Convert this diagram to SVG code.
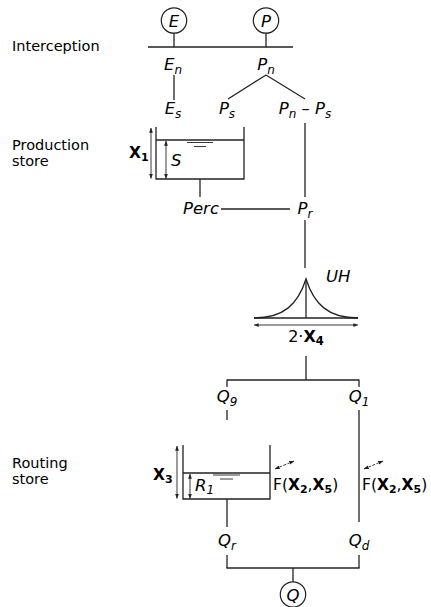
<svg xmlns="http://www.w3.org/2000/svg" width="431" height="607" viewBox="0 0 431 607">
<style>
text{font-family:"DejaVu Sans",sans-serif;fill:#000}
.lab{font-size:14.5px}
.v{font-size:16.5px;font-style:italic}
.sub{font-size:12px}
.b{font-weight:bold}
.ln{stroke:#222;stroke-width:1.3;fill:none}
.th{stroke:#222;stroke-width:0.9;fill:none}
.c{fill:#fff;stroke:#222;stroke-width:1.2}
</style>
<defs>
<marker id="ah" viewBox="0 0 8 6" refX="7.5" refY="3" markerWidth="5" markerHeight="4" orient="auto-start-reverse" markerUnits="userSpaceOnUse">
<path d="M0,0 L8,3 L0,6 Z" fill="#222"/>
</marker>
</defs>
<g id="labels">
<text class="lab" x="12" y="51">Interception</text>
<text class="lab" x="12" y="150">Production</text>
<text class="lab" x="12" y="166">store</text>
<text class="lab" x="12" y="468">Routing</text>
<text class="lab" x="12" y="484">store</text>
</g>
<g id="connectors">
<line class="ln" x1="148" y1="47" x2="293" y2="47"/>
<line class="ln" x1="174" y1="33" x2="174" y2="47"/>
<line class="ln" x1="266" y1="33" x2="266" y2="47"/>
<line class="ln" x1="174" y1="75" x2="174" y2="100"/>
<line class="ln" x1="266" y1="75" x2="228" y2="99"/>
<line class="ln" x1="266" y1="75" x2="305" y2="99"/>
<line class="ln" x1="305" y1="123" x2="305" y2="197"/>
<line class="ln" x1="200" y1="179" x2="200" y2="197"/>
<line class="ln" x1="221" y1="209" x2="290" y2="209"/>
<line class="ln" x1="305" y1="220" x2="305" y2="268"/>
<line class="ln" x1="306" y1="356" x2="306" y2="380"/>
<line class="ln" x1="227" y1="380" x2="359" y2="380"/>
<line class="ln" x1="227" y1="379.4" x2="227" y2="387"/>
<line class="ln" x1="359" y1="379.4" x2="359" y2="387"/>
<line class="ln" x1="227" y1="410" x2="227" y2="420"/>
<line class="ln" x1="359" y1="410" x2="359" y2="522"/>
<line class="ln" x1="227" y1="499" x2="227" y2="527"/>
<line class="ln" x1="227" y1="555" x2="227" y2="568"/>
<line class="ln" x1="359" y1="555" x2="359" y2="568"/>
<line class="ln" x1="226.4" y1="568" x2="359.6" y2="568"/>
<line class="ln" x1="293" y1="568" x2="293" y2="582"/>
<line class="th" x1="275" y1="469" x2="294" y2="461" marker-start="url(#ah)" marker-end="url(#ah)" stroke-dasharray="3,1.5"/>
<line class="th" x1="364" y1="469" x2="383" y2="461" marker-start="url(#ah)" marker-end="url(#ah)" stroke-dasharray="3,1.5"/>
</g>
<g id="E">
<circle class="c" cx="174" cy="20.5" r="12.7"/>
<text class="v" x="174" y="26.5" text-anchor="middle">E</text>
</g>
<g id="P">
<circle class="c" cx="266" cy="20.5" r="12.7"/>
<text class="v" x="266" y="26.5" text-anchor="middle">P</text>
</g>
<g id="En"><text class="v" x="173" y="70" text-anchor="middle">E<tspan class="sub" dy="4">n</tspan></text></g>
<g id="Pn"><text class="v" x="266" y="70" text-anchor="middle">P<tspan class="sub" dy="4">n</tspan></text></g>
<g id="Es"><text class="v" x="173" y="114" text-anchor="middle">E<tspan class="sub" dy="4">s</tspan></text></g>
<g id="Ps"><text class="v" x="227" y="114" text-anchor="middle">P<tspan class="sub" dy="4">s</tspan></text></g>
<g id="PnPs"><text class="v" x="305" y="114" text-anchor="middle">P<tspan class="sub" dy="4">n</tspan><tspan dy="-4" font-style="normal"> – </tspan>P<tspan class="sub" dy="4">s</tspan></text></g>
<g id="production-store">
<path class="ln" d="M156,127 V179 H244 V127"/>
<line class="ln" x1="156" y1="140" x2="244" y2="140"/>
<line class="th" x1="187" y1="142.5" x2="213" y2="142.5"/>
<line class="th" x1="194" y1="146.5" x2="206" y2="146.5"/>
<line class="th" x1="151" y1="128" x2="151" y2="178.5" marker-start="url(#ah)" marker-end="url(#ah)"/>
<line class="th" x1="166" y1="141" x2="166" y2="178.5" marker-start="url(#ah)" marker-end="url(#ah)"/>
<text class="b" x="129" y="158" font-size="15.5">X<tspan font-size="11" dy="3">1</tspan></text>
<text class="v" x="171" y="166">S</text>
</g>
<g id="Perc"><text class="v" x="183" y="214">Perc</text></g>
<g id="Pr"><text class="v" x="305" y="214" text-anchor="middle">P<tspan class="sub" dy="4">r</tspan></text></g>
<g id="UH">
<path class="ln" d="M254,318 C284,318 298,304 306,279 C314,304 328,318 358,318"/>
<line class="ln" x1="254" y1="318" x2="358" y2="318"/>
<line class="ln" x1="306" y1="279" x2="306" y2="318"/>
<line class="th" x1="254" y1="325" x2="358" y2="325" marker-start="url(#ah)" marker-end="url(#ah)"/>
<text class="v" x="326" y="282">UH</text>
<text x="306" y="342" text-anchor="middle" font-size="16">2·<tspan class="b">X</tspan><tspan class="b" font-size="11.5" dy="3">4</tspan></text>
</g>
<g id="Q9"><text class="v" x="227" y="402" text-anchor="middle">Q<tspan class="sub" dy="4">9</tspan></text></g>
<g id="Q1"><text class="v" x="359" y="402" text-anchor="middle">Q<tspan class="sub" dy="4">1</tspan></text></g>
<g id="routing-store">
<path class="ln" d="M183,445 V499 H270 V445"/>
<line class="ln" x1="183" y1="473" x2="270" y2="473"/>
<line class="th" x1="213" y1="475" x2="240" y2="475"/>
<line class="th" x1="220" y1="479" x2="233" y2="479"/>
<line class="th" x1="177" y1="446" x2="177" y2="498.5" marker-start="url(#ah)" marker-end="url(#ah)"/>
<line class="th" x1="190" y1="474" x2="190" y2="498.5" marker-start="url(#ah)" marker-end="url(#ah)"/>
<text class="b" x="153" y="480" font-size="15.5">X<tspan font-size="11" dy="3">3</tspan></text>
<text class="v" x="195" y="491">R<tspan class="sub" dy="3">1</tspan></text>
</g>
<g id="F1"><text x="273" y="490" font-size="15.5">F(<tspan class="b">X</tspan><tspan class="b" font-size="11" dy="3">2</tspan><tspan dy="-3">,</tspan><tspan class="b">X</tspan><tspan class="b" font-size="11" dy="3">5</tspan><tspan dy="-3">)</tspan></text></g>
<g id="F2"><text x="362" y="490" font-size="15.5">F(<tspan class="b">X</tspan><tspan class="b" font-size="11" dy="3">2</tspan><tspan dy="-3">,</tspan><tspan class="b">X</tspan><tspan class="b" font-size="11" dy="3">5</tspan><tspan dy="-3">)</tspan></text></g>
<g id="Qr"><text class="v" x="227" y="546" text-anchor="middle">Q<tspan class="sub" dy="4">r</tspan></text></g>
<g id="Qd"><text class="v" x="359" y="546" text-anchor="middle">Q<tspan class="sub" dy="4">d</tspan></text></g>
<g id="Q">
<circle class="c" cx="293" cy="594.5" r="12.7"/>
<text class="v" x="293" y="600.5" text-anchor="middle">Q</text>
</g>
</svg>
